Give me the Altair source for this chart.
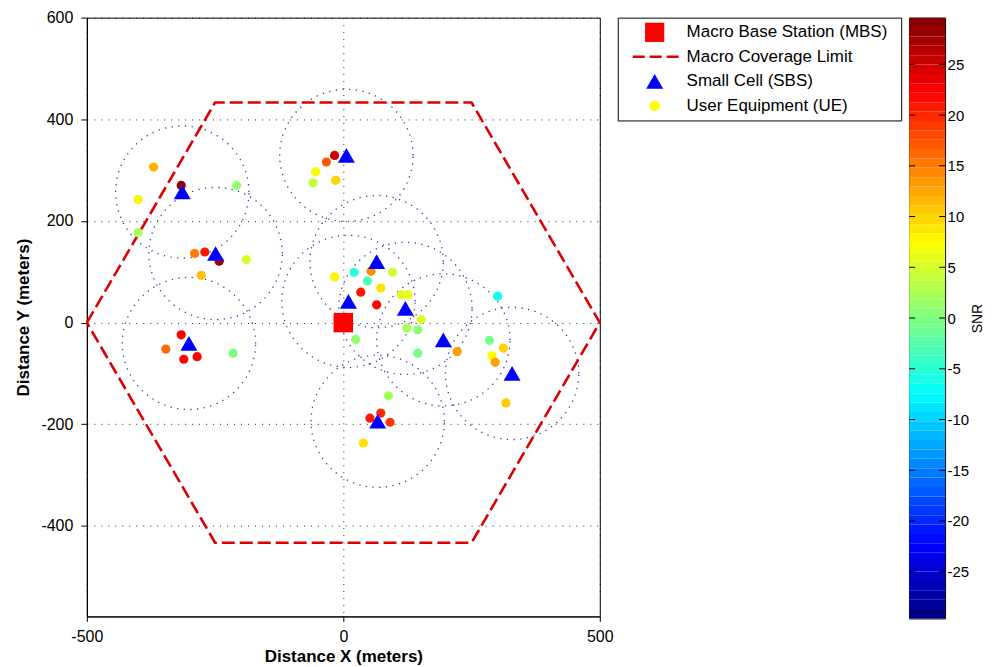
import altair as alt
import numpy as np
import pandas as pd

# ---------------- data ----------------
# User equipment (UE): position (m) and SNR (dB)
ue_x = [-370, -316, -400, -208, -400, -290, -270, -242, -189, -277, -316, -346, -311, -285, -215,
        -17, -33, -54, -59, -15, -17, 21, 54, 96, 47, 73, 34, 65, 113, 126, 152, 124, 145, 24, 145, 222,
        301, 285, 312, 290, 296, 317, 88, 73, 52, 91, 39]
ue_y = [306, 270, 242, 270, 177, 136, 139, 121, 124, 93, -24, -52, -72, -67, -60,
        329, 316, 297, 275, 280, 90, 99, 101, 99, 82, 68, 60, 35, 55, 55, 6, -11, -14, -33, -60, -57,
        52, -35, -50, -65, -78, -158, -144, -178, -188, -196, -237]
ue_snr = [12, 28.5, 8, 1, 2, 15, 21, 28, 5, 11, 22, 16, 22, 22, 0,
          25, 17, 7, 4, 10, 8, -5, 14, 4.5, -3, 9, 21, 22, 5.5, 6, 5, 2.5, 0.5, 1, -0.5, 13,
          -6.5, -0.5, 10, 7.5, 13, 10.5, 2, 20, 21, 19, 9]

# Small cells (SBS)
sbs_x = [6, -314, -249, -301, 65, 10, 121, 195, 329, 67]
sbs_y = [329, 257, 136, -41, 120, 42, 28, -34, -100, -194]
sbs_radius = 130

# Macro base station
mbs_x = [0]
mbs_y = [0]

# Macro coverage limit (hexagon vertices)
hex_x = [-500, -250, 250, 500, 250, -250, -500]
hex_y = [0, 433, 433, 0, -433, -433, 0]

x_ticks = [-500, 0, 500]
y_ticks = [-400, -200, 0, 200, 400, 600]
cbar_ticks = [-25, -20, -15, -10, -5, 0, 5, 10, 15, 20, 25]
snr_lo, snr_hi = -29.6, 29.6
jet_colors = ['#00007f', '#0000ff', '#00ffff', '#ffff00', '#ff0000', '#7f0000']
jet_stops = [0, 1 / 8, 3 / 8, 5 / 8, 7 / 8, 1]

legend_labels = ["Macro Base Station (MBS)", "Macro Coverage Limit",
                 "Small Cell (SBS)", "User Equipment (UE)"]

# ---------------- tables ----------------
ue_df = pd.DataFrame({'x': ue_x, 'y': ue_y, 'snr': ue_snr})
sbs_df = pd.DataFrame({'x': sbs_x, 'y': sbs_y})
mbs_df = pd.DataFrame({'x': mbs_x, 'y': mbs_y})
hex_df = pd.DataFrame({'x': hex_x, 'y': hex_y, 'i': list(range(len(hex_x)))})

theta = np.linspace(0, 2 * np.pi, 145)
circ_rows = []
for c, (sx, sy) in enumerate(zip(sbs_x, sbs_y)):
    for k, t in enumerate(theta):
        circ_rows.append({'cell': c, 'k': k,
                          'x': sx + sbs_radius * np.cos(t),
                          'y': sy + sbs_radius * np.sin(t)})
circ_df = pd.DataFrame(circ_rows)

n_bins = 64
edges = np.linspace(snr_lo, snr_hi, n_bins + 1)
cbar_df = pd.DataFrame({'lo': edges[:-1], 'hi': edges[1:], 'mid': (edges[:-1] + edges[1:]) / 2})
tick_df = pd.DataFrame({'v': cbar_ticks})
leg_df = pd.DataFrame({'label': legend_labels})

# ---------------- scales ----------------
color_scale = alt.Scale(domain=[snr_lo + (snr_hi - snr_lo) * s for s in jet_stops],
                        range=jet_colors, interpolate='rgb', clamp=True)
xscale = alt.Scale(domain=[-500, 500], nice=False, zero=False)
yscale = alt.Scale(domain=[-578, 600], nice=False, zero=False)

plain = "'' + datum.value"
xaxis = alt.Axis(values=x_ticks, title='Distance X (meters)', labelExpr=plain, grid=True,
                 gridColor='black', gridDash=[1, 6], gridWidth=1, gridOpacity=0.85,
                 tickSize=5, labelPadding=7, labelFlush=False, titlePadding=4)
yaxis = alt.Axis(values=y_ticks, title='Distance Y (meters)', labelExpr=plain, grid=True,
                 gridColor='black', gridDash=[1, 6], gridWidth=1, gridOpacity=0.85,
                 tickSize=6, labelPadding=8, labelFlush=False, titlePadding=8.5)

X = alt.X('x:Q', scale=xscale, axis=xaxis)
Y = alt.Y('y:Q', scale=yscale, axis=yaxis)

circles = alt.Chart(circ_df).mark_line(color='#3a3aa8', strokeWidth=1.3,
                                        strokeDash=[1.3, 5.4]).encode(
    x=X, y=Y, detail='cell:N', order='k:Q')
hexagon = alt.Chart(hex_df).mark_line(color='#dd0000', strokeWidth=2.6,
                                       strokeDash=[13, 5]).encode(
    x=X, y=Y, order='i:Q')
ues = alt.Chart(ue_df).mark_point(shape='circle', filled=True, size=85, opacity=1).encode(
    x=X, y=Y, color=alt.Color('snr:Q', scale=color_scale, legend=None))
sbs = alt.Chart(sbs_df).mark_point(shape='triangle-up', filled=True, size=290, opacity=1,
                                   color='#0000ff').encode(x=X, y=Y)
mbs = alt.Chart(mbs_df).mark_point(shape='square', filled=True, size=380, opacity=1,
                                   color='#ff0000').encode(x=X, y=Y)

main = alt.layer(circles, hexagon, ues, sbs, mbs).properties(width=514, height=600)

# ---------------- legend box ----------------
LY = alt.Y('label:N', sort=legend_labels,
           scale=alt.Scale(type='point', domain=legend_labels, padding=0.6), axis=None)
leg_base = alt.Chart(leg_df)
leg_sq = leg_base.mark_point(shape='square', filled=True, size=370, opacity=1, color='#ff0000').encode(
    y=LY, x=alt.value(37)).transform_filter(alt.datum.label == legend_labels[0])
leg_line = leg_base.mark_rule(color='#dd0000', strokeWidth=2.6, strokeDash=[12, 5]).encode(
    y=LY, x=alt.value(15), x2=alt.value(64)).transform_filter(alt.datum.label == legend_labels[1])
leg_tri = leg_base.mark_point(shape='triangle-up', filled=True, size=290, opacity=1, color='#0000ff').encode(
    y=LY, x=alt.value(37)).transform_filter(alt.datum.label == legend_labels[2])
leg_ci = leg_base.mark_point(shape='circle', filled=True, size=110, opacity=1, color='#ffff00').encode(
    y=LY, x=alt.value(37)).transform_filter(alt.datum.label == legend_labels[3])
leg_txt = leg_base.mark_text(align='left', baseline='middle', fontSize=17, color='black').encode(
    y=LY, x=alt.value(69), text='label:N')
legend_box = alt.layer(leg_sq, leg_line, leg_tri, leg_ci, leg_txt).properties(width=284, height=103)

# ---------------- colorbar ----------------
cscale = alt.Scale(domain=[snr_lo, snr_hi], nice=False, zero=False)
cbar_rect = alt.Chart(cbar_df).mark_rect().encode(
    y=alt.Y('lo:Q', scale=cscale,
            axis=alt.Axis(orient='right', values=cbar_ticks, labelExpr=plain, title='SNR',
                          ticks=False, tickSize=0, domain=False, grid=False, labelPadding=2,
                          labelFontSize=15, titleAngle=270, titleBaseline='top', titlePadding=1.5,
                          titleFontWeight='normal', titleFontSize=14, labelFlush=False)),
    y2='hi:Q', x=alt.value(0), x2=alt.value(36),
    color=alt.Color('mid:Q', scale=color_scale, legend=None))
tick_l = alt.Chart(tick_df).mark_rule(color='black', strokeWidth=1).encode(
    y=alt.Y('v:Q', scale=cscale), x=alt.value(0), x2=alt.value(6))
tick_r = alt.Chart(tick_df).mark_rule(color='black', strokeWidth=1).encode(
    y=alt.Y('v:Q', scale=cscale), x=alt.value(30), x2=alt.value(36))
cbar = alt.layer(cbar_rect, tick_l, tick_r).properties(width=36, height=602)

right = alt.hconcat(legend_box, cbar, spacing=8, bounds='flush')
chart = alt.hconcat(main, right, spacing=18, bounds='flush').resolve_scale(
    x='independent', y='independent'
).properties(
    padding={'left': 5, 'top': 0, 'right': 0, 'bottom': 0}
).configure(
    font='Liberation Sans'
).configure_view(
    stroke='black', strokeWidth=1
).configure_axis(
    labelFont='Liberation Sans', titleFont='Liberation Sans',
    labelFontSize=16, titleFontSize=17, titleFontWeight='bold',
    labelColor='black', titleColor='black', tickColor='black', domainColor='black'
)

chart.save("out.html", embed_options={"renderer": "svg", "actions": False})
